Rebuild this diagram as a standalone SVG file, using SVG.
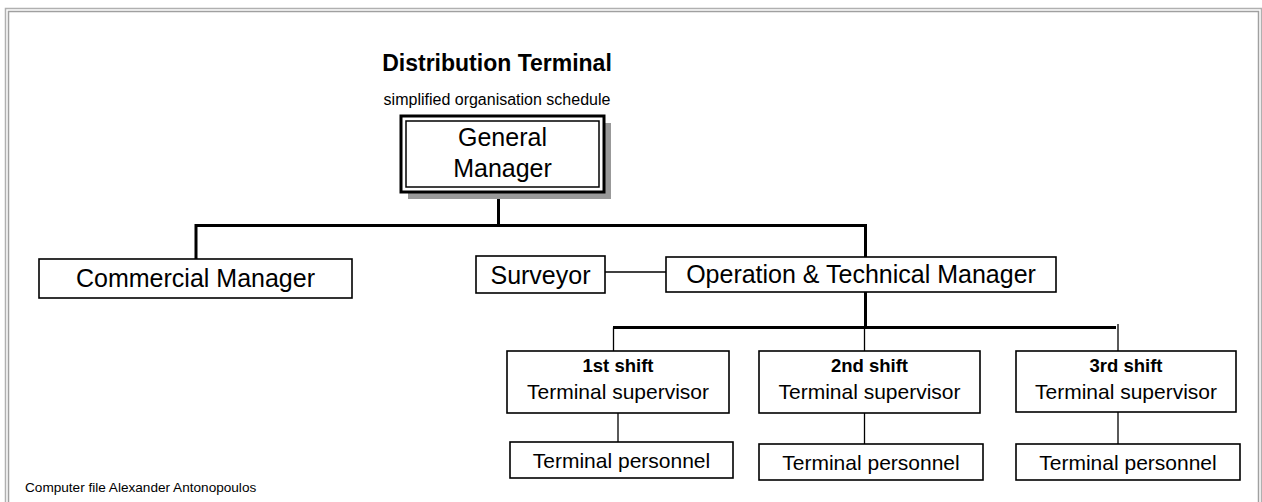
<svg xmlns="http://www.w3.org/2000/svg" width="1262" height="502" viewBox="0 0 1262 502">
<style>
.box{fill:#fff;stroke:#000;stroke-width:1.6}
.t{font-family:"Liberation Sans",Arial,sans-serif;fill:#000;text-anchor:middle}
.big{font-size:25px}
.mid{font-size:21px}
.shift{font-size:18.5px;font-weight:bold}
.thick{stroke:#000;stroke-width:3;fill:none}
.thin{stroke:#000;stroke-width:1.3;fill:none}
</style>
<rect width="1262" height="502" fill="#fff"/>
<g id="frame" fill="none">
<rect x="5.5" y="8.5" width="1256" height="600" stroke="#b0b0b0" stroke-width="1.5"/>
<rect x="8.5" y="11.5" width="1250" height="600" stroke="#a0a0a0" stroke-width="1.5"/>
</g>
<g id="title">
<text class="t" x="497" y="71" style="font-size:23px;font-weight:bold">Distribution Terminal</text>
<text class="t" x="497" y="105" style="font-size:16px">simplified organisation schedule</text>
</g>
<g id="connectors">
<line class="thick" x1="498.5" y1="192" x2="498.5" y2="225.5"/>
<polyline class="thick" points="196,259 196,225.5 865.5,225.5 865.5,257"/>
<line class="thick" x1="865.5" y1="292" x2="865.5" y2="327.5"/>
<line class="thin" x1="605" y1="272" x2="666" y2="272"/>
<line class="thick" x1="613" y1="327.5" x2="1116" y2="327.5"/>
<line class="thin" x1="613.5" y1="327.5" x2="613.5" y2="351"/>
<line class="thin" x1="864.5" y1="327.5" x2="864.5" y2="351"/>
<line class="thin" x1="1118" y1="324" x2="1118" y2="351"/>
<line class="thin" x1="618" y1="413" x2="618" y2="442"/>
<line class="thin" x1="864.5" y1="413" x2="864.5" y2="444"/>
<line class="thin" x1="1118" y1="412" x2="1118" y2="444"/>
</g>
<g id="general-manager">
<rect x="408" y="123" width="203" height="76" fill="#999"/>
<rect x="401" y="116" width="203" height="76" fill="#fff" stroke="#000" stroke-width="3"/>
<rect x="406" y="121" width="193" height="66" fill="none" stroke="#000" stroke-width="1.5"/>
<text class="t big" x="502.5" y="146">General</text>
<text class="t big" x="502.5" y="177">Manager</text>
</g>
<g id="commercial-manager">
<rect class="box" x="39" y="259" width="313" height="39"/>
<text class="t big" x="195.5" y="287">Commercial Manager</text>
</g>
<g id="surveyor">
<rect class="box" x="476" y="256" width="129" height="37"/>
<text class="t big" x="540.5" y="283.5">Surveyor</text>
</g>
<g id="operation-technical-manager">
<rect class="box" x="666" y="257" width="390" height="35"/>
<text class="t big" x="861" y="283">Operation &amp; Technical Manager</text>
</g>
<g id="shift1">
<rect class="box" x="507" y="351" width="222" height="62"/>
<text class="t shift" x="618" y="372">1st shift</text>
<text class="t mid" x="618" y="399">Terminal supervisor</text>
</g>
<g id="shift2">
<rect class="box" x="759" y="351" width="221" height="62"/>
<text class="t shift" x="869.5" y="372">2nd shift</text>
<text class="t mid" x="869.5" y="399">Terminal supervisor</text>
</g>
<g id="shift3">
<rect class="box" x="1016" y="351" width="220" height="61"/>
<text class="t shift" x="1126" y="372">3rd shift</text>
<text class="t mid" x="1126" y="399">Terminal supervisor</text>
</g>
<g id="personnel1">
<rect class="box" x="510" y="442" width="223" height="36"/>
<text class="t mid" x="621.5" y="467.5">Terminal personnel</text>
</g>
<g id="personnel2">
<rect class="box" x="759" y="444" width="224" height="36"/>
<text class="t mid" x="871" y="469.5">Terminal personnel</text>
</g>
<g id="personnel3">
<rect class="box" x="1016" y="444" width="224" height="36"/>
<text class="t mid" x="1128" y="469.5">Terminal personnel</text>
</g>
<text class="t" x="25" y="492" style="font-size:13.6px;text-anchor:start">Computer file Alexander Antonopoulos</text>
</svg>
